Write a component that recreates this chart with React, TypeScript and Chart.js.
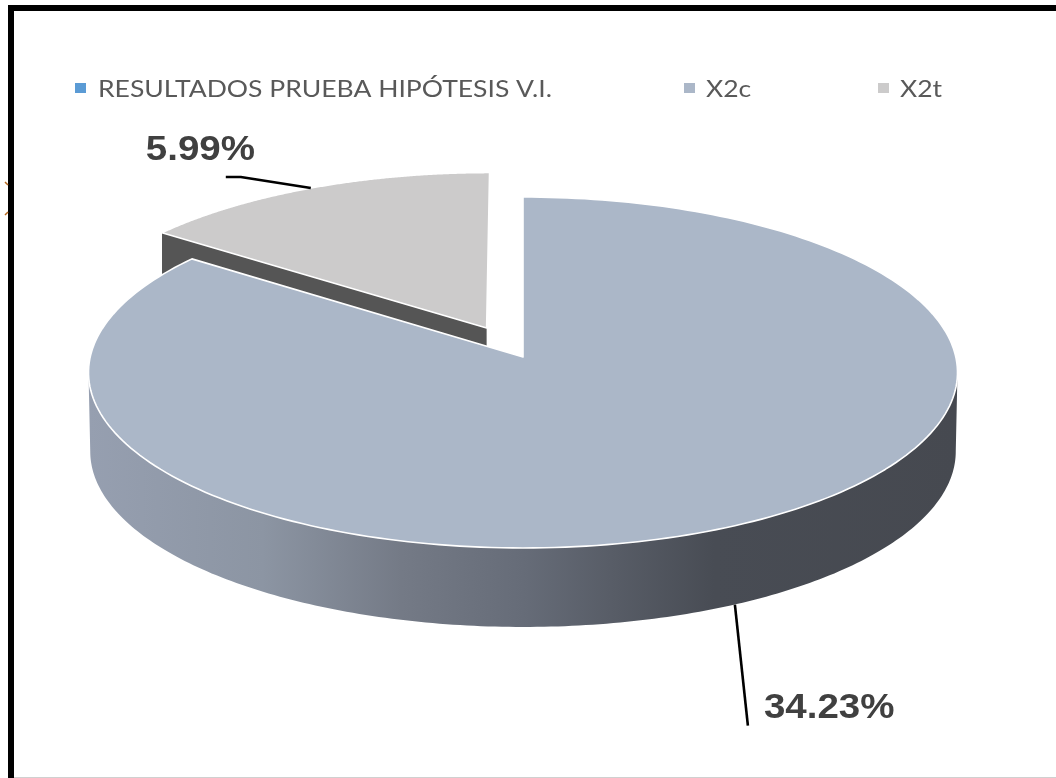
import React, { useEffect, useRef } from "react";
import { Chart, registerables } from "chart.js";

Chart.register(...registerables);

const categories = ["RESULTADOS PRUEBA HIPÓTESIS V.I.", "X2c", "X2t"];
const seriesValues = [0, 34.23, 5.99];
const sliceColors = ["#5B9BD5", "#ABB7C8", "#CCCBCB"];
const sliceExplode = [0, 0, 0.189];
const legendMarkerLeft = [75, 684, 878];
const legendTextLeft = [98, 706, 900];
const legendTextStretch = [1.105, 1.105, 1.105];
const rimGradientStops: [number, string][] = [
  [0, "#969FB0"],
  [0.2, "#8C95A3"],
  [0.36, "#747A86"],
  [0.5, "#666C78"],
  [0.6, "#585D67"],
  [0.72, "#484C54"],
  [1, "#464950"],
];

// Tilted-disc projection: unit disc coordinates to canvas pixels.
const DISC = { cx: 523, cy: 357, ax: 432.8, ay: 174.1, tilt: 0.0883, depth: 79, rimShrink: 0.996 };

function project(u: number, v: number) {
  const d = 1 + DISC.tilt * v;
  return { x: DISC.cx + (DISC.ax * u) / d, y: DISC.cy - (DISC.ay * v) / d };
}

function sliceGeometry(arc: any, index: number) {
  const start = arc.startAngle + Math.PI / 2;
  const end = arc.endAngle + Math.PI / 2;
  const mid = (start + end) / 2;
  const e = sliceExplode[index];
  const ou = e * Math.sin(mid);
  const ov = e * Math.cos(mid);
  const at = (t: number) => project(ou + Math.sin(t), ov + Math.cos(t));
  return { start, end, mid, apex: project(ou, ov), at };
}

function drawFace(ctx: CanvasRenderingContext2D, g: ReturnType<typeof sliceGeometry>, fill: string) {
  ctx.beginPath();
  ctx.moveTo(g.apex.x, g.apex.y);
  const steps = 240;
  for (let i = 0; i <= steps; i++) {
    const p = g.at(g.start + ((g.end - g.start) * i) / steps);
    ctx.lineTo(p.x, p.y);
  }
  ctx.closePath();
  ctx.fillStyle = fill;
  ctx.fill();
  ctx.strokeStyle = "#FFFFFF";
  ctx.lineWidth = 1.6;
  ctx.lineJoin = "round";
  ctx.stroke();
}

function drawRim(ctx: CanvasRenderingContext2D, g: ReturnType<typeof sliceGeometry>) {
  // The outer wall runs between the two horizontal extremes of the projected disc.
  const from = Math.acos(-DISC.tilt);
  const to = 2 * Math.PI - from;
  const steps = 200;
  const top: { x: number; y: number }[] = [];
  for (let i = 0; i <= steps; i++) top.push(g.at(from + ((to - from) * i) / steps));
  ctx.beginPath();
  top.forEach((p, i) => (i ? ctx.lineTo(p.x, p.y) : ctx.moveTo(p.x, p.y)));
  for (let i = steps; i >= 0; i--) {
    const p = top[i];
    ctx.lineTo(DISC.cx + (p.x - DISC.cx) * DISC.rimShrink, p.y + DISC.depth);
  }
  ctx.closePath();
  const grad = ctx.createLinearGradient(89, 0, 958, 0);
  rimGradientStops.forEach(([o, c]) => grad.addColorStop(o, c));
  ctx.fillStyle = grad;
  ctx.fill();
}

function drawCutWall(ctx: CanvasRenderingContext2D, g: ReturnType<typeof sliceGeometry>) {
  const corner = g.at(g.start);
  ctx.beginPath();
  ctx.moveTo(g.apex.x, g.apex.y);
  ctx.lineTo(corner.x, corner.y);
  ctx.lineTo(corner.x, corner.y + DISC.depth);
  ctx.lineTo(g.apex.x, g.apex.y + DISC.depth);
  ctx.closePath();
  ctx.fillStyle = "#555555";
  ctx.fill();
}

function stretchedLabel(ctx: CanvasRenderingContext2D, text: string, x: number, y: number) {
  ctx.save();
  ctx.translate(x, y);
  ctx.scale(1.1, 1);
  ctx.font = 'bold 35px "Liberation Sans"';
  ctx.fillStyle = "#404040";
  ctx.textBaseline = "alphabetic";
  ctx.textAlign = "left";
  ctx.fillText(text, 0, 0);
  ctx.restore();
}

function leader(ctx: CanvasRenderingContext2D, pts: { x: number; y: number }[]) {
  ctx.beginPath();
  pts.forEach((p, i) => (i ? ctx.lineTo(p.x, p.y) : ctx.moveTo(p.x, p.y)));
  ctx.strokeStyle = "#000000";
  ctx.lineWidth = 2.6;
  ctx.lineJoin = "round";
  ctx.stroke();
}

const pageFrame = {
  id: "pageFrame",
  beforeDraw(chart: any) {
    const ctx: CanvasRenderingContext2D = chart.ctx;
    ctx.save();
    ctx.fillStyle = "#FFFFFF";
    ctx.fillRect(0, 0, chart.width, chart.height);
    ctx.fillStyle = "#000000";
    ctx.fillRect(8, 5, chart.width - 8, 6);
    ctx.fillRect(8, 5, 6, chart.height - 5);
    ctx.fillStyle = "#D0D0D0";
    ctx.fillRect(14, chart.height - 1, chart.width - 14, 1);
    ctx.strokeStyle = "#B8691F";
    ctx.lineWidth = 1.5;
    ctx.beginPath();
    ctx.moveTo(5, 182);
    ctx.lineTo(8, 185);
    ctx.moveTo(5, 215);
    ctx.lineTo(8, 212);
    ctx.stroke();
    ctx.restore();
  },
};

// Legend row: one square marker and one label per category.
const legendRow = {
  id: "legendRow",
  afterDraw(chart: any) {
    const ctx: CanvasRenderingContext2D = chart.ctx;
    ctx.save();
    categories.forEach((name, i) => {
      ctx.fillStyle = sliceColors[i];
      ctx.fillRect(legendMarkerLeft[i], 83, 11, 10);
      ctx.save();
      ctx.translate(legendTextLeft[i], 97);
      ctx.scale(legendTextStretch[i], 1);
      ctx.font = '24px "Lato"';
      ctx.fillStyle = "#595959";
      ctx.textBaseline = "alphabetic";
      ctx.fillText(name, 0, 0);
      ctx.restore();
    });
    ctx.restore();
  },
};

const tiltedPie = {
  id: "tiltedPie",
  // The slices are painted in afterDatasetsDraw through the disc projection.
  beforeDatasetDraw() {
    return false;
  },
  afterDatasetsDraw(chart: any) {
    const ctx: CanvasRenderingContext2D = chart.ctx;
    const arcs = chart.getDatasetMeta(0).data;
    const big = sliceGeometry(arcs[1], 1);
    const small = sliceGeometry(arcs[2], 2);
    ctx.save();
    drawCutWall(ctx, small);
    drawFace(ctx, small, sliceColors[2]);
    drawRim(ctx, big);
    drawFace(ctx, big, sliceColors[1]);

    const bigAnchor = big.at(big.mid);
    const bigRim = { x: bigAnchor.x, y: bigAnchor.y + DISC.depth };
    leader(ctx, [bigRim, { x: bigRim.x + 13, y: bigRim.y + 121 }]);
    const smallAnchor = small.at(small.mid);
    leader(ctx, [
      smallAnchor,
      { x: smallAnchor.x - 70, y: smallAnchor.y - 11 },
      { x: smallAnchor.x - 85, y: smallAnchor.y - 11 },
    ]);
    stretchedLabel(ctx, `${seriesValues[2].toFixed(2)}%`, smallAnchor.x - 165, smallAnchor.y - 28);
    stretchedLabel(ctx, `${seriesValues[1].toFixed(2)}%`, bigRim.x + 29, bigRim.y + 113);
    ctx.restore();
  },
};

export default function App() {
  const ref = useRef<HTMLCanvasElement | null>(null);
  useEffect(() => {
    document.body.style.margin = "0";
    document.body.style.background = "#FFFFFF";
    const chart = new Chart(ref.current as HTMLCanvasElement, {
      type: "pie",
      data: {
        labels: categories,
        datasets: [{ data: seriesValues, backgroundColor: sliceColors, borderWidth: 0 }],
      },
      plugins: [pageFrame, tiltedPie, legendRow],
      options: {
        animation: false,
        responsive: false,
        events: [],
        plugins: {
          tooltip: { enabled: false },
          title: { display: false },
          legend: { display: false },
        },
      },
    } as any);
    return () => chart.destroy();
  }, []);
  return (
    <div style={{ position: "absolute", left: 0, top: 0, width: 1056, height: 778 }}>
      <canvas ref={ref} width={1056} height={778} style={{ display: "block" }} />
    </div>
  );
}
